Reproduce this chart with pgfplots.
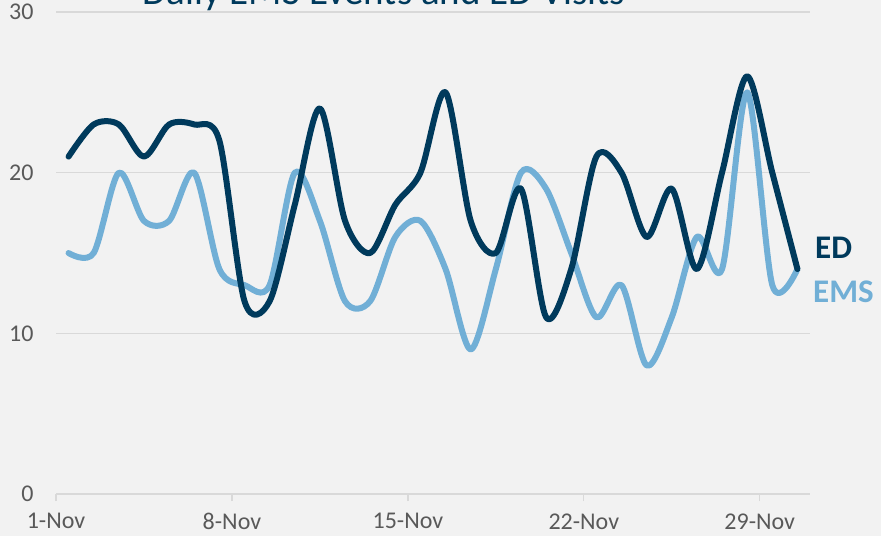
\documentclass[border=0pt]{standalone}
\usepackage{pgfplots}
\pgfplotsset{compat=1.18}
\usepackage{fontspec}
\setmainfont{Carlito}

\definecolor{edblue}{HTML}{003A5C}
\definecolor{emsblue}{HTML}{71AFD6}
\definecolor{gridgray}{HTML}{D9D9D9}
\definecolor{labelgray}{HTML}{595959}
\definecolor{bggray}{HTML}{F2F2F2}

% day, ED visits, EMS events
\pgfplotstableread{
day ed ems
1  21 15
2  23 15
3  23 20
4  21 17
5  23 17
6  23 20
7  22 14
8  12 13
9  12 13
10 18 20
11 24 17
12 17 12
13 15 12
14 18 16
15 20 17
16 25 14
17 17 9
18 15 14
19 19 20
20 11 19
21 14 15
22 21 11
23 20 13
24 16 8
25 19 11
26 14 16
27 20 14
28 26 25
29 20 13
30 14 14
}\dailydata

\begin{document}
\begin{tikzpicture}
\fill[bggray] (0,0) rectangle (881pt,536pt);
\useasboundingbox (0,0) rectangle (881pt,536pt);
\clip (0,0) rectangle (881pt,536pt);

\begin{axis}[
    at={(56pt,42pt)}, anchor=south west,
    scale only axis,
    width=754pt, height=482pt,
    xmin=0.5, xmax=30.5,
    ymin=0, ymax=30,
    axis x line*=bottom,
    axis y line*=left,
    y axis line style={draw=none},
    x axis line style={gridgray, line width=1.5pt},
    xtick={0.5,7.5,14.5,21.5,28.5},
    xticklabels={1-Nov,8-Nov,15-Nov,22-Nov,29-Nov},
    xtick align=outside,
    major tick length=7pt,
    xtick style={gridgray, line width=1.3pt},
    ytick={0,10,20,30},
    ytick style={draw=none},
    ymajorgrids=true,
    grid style={gridgray, line width=1.3pt},
    tick label style={font=\fontsize{24}{28}\selectfont, text=labelgray},
    /pgf/number format/assume math mode=true,
    yticklabel style={xshift=-19pt},
    xticklabel style={yshift=-9pt},
    clip=false,
]
\addplot[emsblue, line width=6pt, smooth, tension=0.5, line cap=round, line join=round]
    table[x=day, y=ems] {\dailydata};
\addplot[edblue, line width=6pt, smooth, tension=0.5, line cap=round, line join=round]
    table[x=day, y=ed] {\dailydata};
\end{axis}

\node[anchor=base, inner sep=0pt, text=edblue, font=\fontsize{39}{44}\selectfont]
    at (384pt,531pt) {Daily EMS Events and ED Visits};
\node[anchor=base west, inner sep=0pt, text=edblue, font=\bfseries\fontsize{33}{38}\selectfont]
    at (815pt,277pt) {ED};
\node[anchor=base west, inner sep=0pt, text=emsblue, font=\bfseries\fontsize{33}{38}\selectfont]
    at (813pt,233pt) {EMS};
\end{tikzpicture}
\end{document}
